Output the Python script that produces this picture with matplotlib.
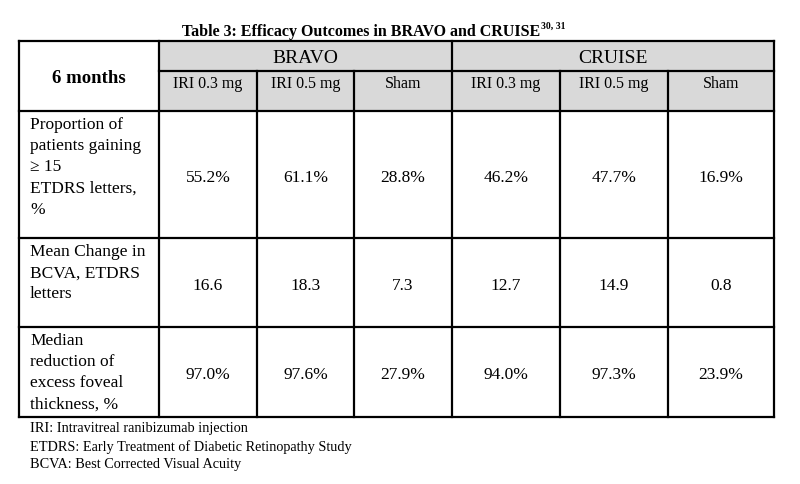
import matplotlib
matplotlib.use("Agg")
import matplotlib.pyplot as plt
from matplotlib.patches import Rectangle

# ---------------- data ----------------
title = "Table 3: Efficacy Outcomes in BRAVO and CRUISE"
title_sup = "30, 31"
corner_label = "6 months"
groups = ["BRAVO", "CRUISE"]
arms = ["IRI 0.3 mg", "IRI 0.5 mg", "Sham"]
row_labels = [
    "Proportion of\npatients gaining\n\u2265 15\nETDRS letters,\n%",
    "Mean Change in\nBCVA, ETDRS\nletters",
    "Median\nreduction of\nexcess foveal\nthickness, %",
]
row_units = ["%", "", "%"]
bravo_values = [
    [55.2, 61.1, 28.8],
    [16.6, 18.3, 7.3],
    [97.0, 97.6, 27.9],
]
cruise_values = [
    [46.2, 47.7, 16.9],
    [12.7, 14.9, 0.8],
    [94.0, 97.3, 23.9],
]
footnotes = [
    "IRI: Intravitreal ranibizumab injection",
    "ETDRS: Early Treatment of Diabetic Retinopathy Study",
    "BCVA: Best Corrected Visual Acuity",
]

# ---------------- layout (pixels) ----------------
FONT = "Liberation Serif"
col_x = [19, 159, 257, 354, 452, 560, 668, 774]
row_y = [41.5, 72, 112, 239, 328, 417.5]
header_fill = "#d9d9d9"
lw = 1.6

fig = plt.figure(figsize=(8, 4.85), dpi=100)
ax = fig.add_axes([0, 0, 1, 1])
ax.set_xlim(0, 800)
ax.set_ylim(485, 0)
ax.axis("off")

# header shading
ax.add_patch(Rectangle((col_x[1], row_y[0]), col_x[-1] - col_x[1], row_y[2] - row_y[0],
                       facecolor=header_fill, edgecolor="none", zorder=0))

def hline(y, x0, x1):
    ax.plot([x0, x1], [y, y], color="black", lw=lw, solid_capstyle="projecting", zorder=2)

def vline(x, y0, y1):
    ax.plot([x, x], [y0, y1], color="black", lw=lw, solid_capstyle="projecting", zorder=2)

# horizontal lines
hline(row_y[0], col_x[0], col_x[-1])
hline(row_y[1], col_x[1], col_x[-1])
for y in row_y[2:]:
    hline(y, col_x[0], col_x[-1])
# vertical lines
for i, x in enumerate(col_x):
    if i in (0, 1, 4, 7):
        vline(x, row_y[0], row_y[-1])
    else:
        vline(x, row_y[1], row_y[-1])

# title
t = ax.text(182, 31.5, title, fontsize=11.5, fontweight="bold", family=FONT,
            ha="left", va="center")
fig.canvas.draw()
bb = t.get_window_extent(renderer=fig.canvas.get_renderer())
x_end = bb.x1  # pixels in figure == data units here
ax.text(x_end + 1, 26.5, title_sup, fontsize=7, fontweight="bold", family=FONT,
        ha="left", va="center")

# corner cell
ax.text((col_x[0] + col_x[1]) / 2, 78.5, corner_label, fontsize=13.5, fontweight="bold",
        family=FONT, ha="center", va="center")

# group headers
for g, name in enumerate(groups):
    x0 = col_x[1 + 3 * g]
    x1 = col_x[4 + 3 * g]
    ax.text((x0 + x1) / 2, 58.5, name, fontsize=14, family=FONT, ha="center", va="center")
    for a, arm in enumerate(arms):
        cx = (col_x[1 + 3 * g + a] + col_x[2 + 3 * g + a]) / 2
        ax.text(cx, 84.5, arm, fontsize=11.5, family=FONT, ha="center", va="center")

# body
line_step = 21.2
for r, label in enumerate(row_labels):
    top = row_y[2 + r]
    bottom = row_y[3 + r]
    for k, line in enumerate(label.split("\n")):
        ax.text(30, top + 13 + k * line_step, line, fontsize=12.5, family=FONT,
                ha="left", va="center")
    cy = (top + bottom) / 2 + 2.5
    vals = bravo_values[r] + cruise_values[r]
    for c, v in enumerate(vals):
        cx = (col_x[1 + c] + col_x[2 + c]) / 2
        ax.text(cx, cy, f"{v:.1f}{row_units[r]}", fontsize=12.5, family=FONT,
                ha="center", va="center")

# footnotes
for k, note in enumerate(footnotes):
    ax.text(30, 429 + k * 17.7, note, fontsize=10.3, family=FONT, ha="left", va="center")

fig.savefig("out.png", dpi=100)
